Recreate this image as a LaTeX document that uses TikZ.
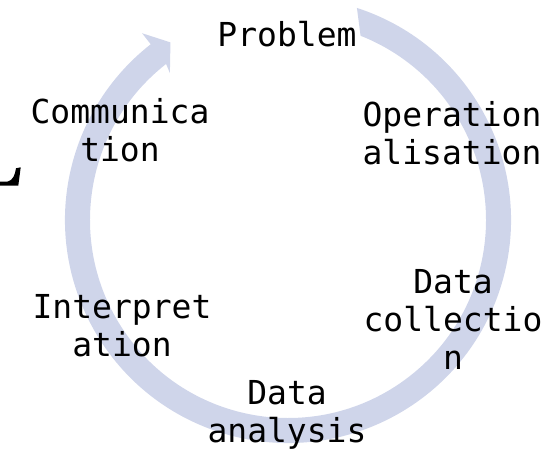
\documentclass[tikz,border=0pt]{standalone}
\usepackage{fontspec}
\usetikzlibrary{calc}
\newfontfamily\stagefont{DejaVu Sans Mono}
\definecolor{cycleblue}{RGB}{207,213,234}
\tikzset{
  stage/.style={font={\stagefont\fontsize{33}{38}\selectfont}, align=center, inner sep=0pt, anchor=base}
}
\begin{document}
\begin{tikzpicture}[x=1pt, y=1pt]
      \useasboundingbox (0,0) rectangle (559,462);
      \coordinate (hub) at (288,242);
      % the cycle arrow
      \fill[cycleblue] ($(hub)+(72:223)$) arc[start angle=72, end angle=-232, radius=223]
        -- ($(hub)+(128:237)$) -- ($(hub)+(123.5:213)$) -- ($(hub)+(128.8:188.5)$)
        -- ($(hub)+(128:198)$) arc[start angle=-232, end angle=68.5, radius=198] -- cycle;
      % corner piece on the left edge
      \fill[black] (0,280.3) -- (8,280.5) .. controls (13,282) and (15,287) .. (16,293.7)
        -- (20.7,294.7) -- (18.3,276.3) -- (0,276.3) -- cycle;
      % stages, placed at the baseline of their last line
      \draw
        (287,415) node[stage] (problem){Problem}
        (452,297) node[stage] (operation){Operation\\alisation}
        (453,92) node[stage] (collection){Data\\collectio\\n}
        (287,19) node[stage] (analysis){Data\\analysis}
        (122,105) node[stage] (interpretation){Interpret\\ation}
        (120,300) node[stage] (communication){Communica\\tion};
    \end{tikzpicture}
\end{document}
